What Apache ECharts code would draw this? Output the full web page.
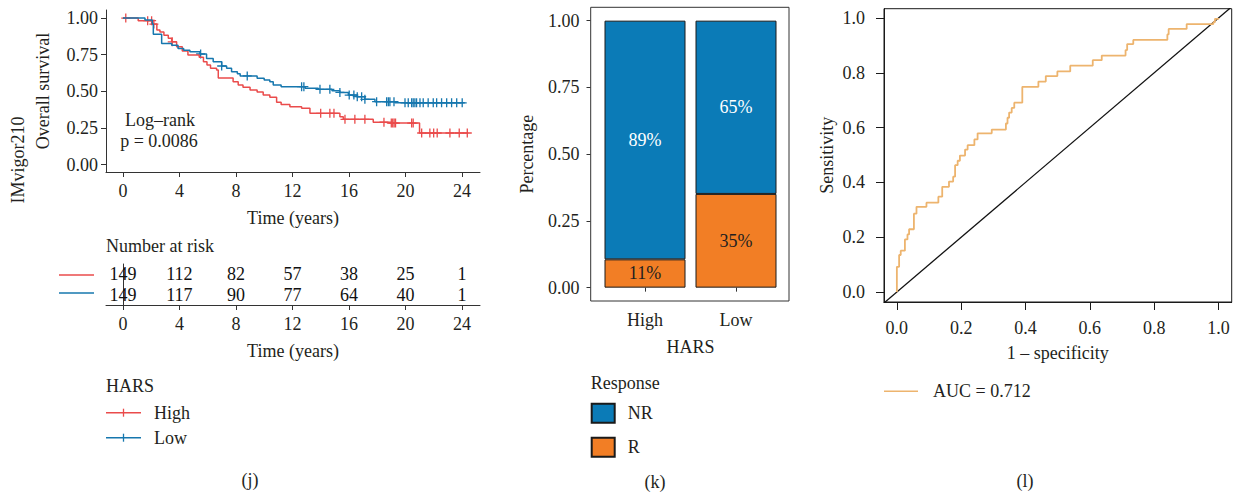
<!DOCTYPE html>
<html>
<head>
<meta charset="utf-8">
<script src="https://cdn.jsdelivr.net/npm/echarts@6/dist/echarts.min.js"></script>
<style>
  html, body { margin: 0; padding: 0; background: #fff; }
  #chart { width: 1234px; height: 493px; }
</style>
</head>
<body>
<div id="chart"></div>
<script>
// ---- (j) Kaplan-Meier, IMvigor210 ----
const highTime = [0, 1.08, 2.1, 2.4, 2.62, 2.9, 3.21, 3.45, 3.8, 4.2, 4.6, 5.4, 5.7, 5.95, 6.2, 6.63, 6.75, 7.8, 8.16, 8.5, 9.0, 9.5, 9.93, 10.4, 10.88, 11.2, 11.82, 12.65, 13.24, 15.36, 15.6, 17.72, 19.0, 21.0, 24.45];
const highSurv = [1.0, 0.982, 0.959, 0.918, 0.905, 0.882, 0.862, 0.838, 0.805, 0.775, 0.748, 0.733, 0.702, 0.68, 0.657, 0.645, 0.592, 0.565, 0.543, 0.528, 0.509, 0.495, 0.475, 0.46, 0.425, 0.41, 0.395, 0.384, 0.35, 0.327, 0.309, 0.29, 0.284, 0.216, 0.216];
const lowTime = [0, 1.56, 2.08, 2.15, 2.74, 3.45, 3.9, 4.3, 4.74, 5.45, 5.92, 6.39, 6.99, 7.34, 7.69, 8.1, 8.3, 9.5, 10.0, 10.4, 10.64, 11.2, 12.9, 13.83, 14.8, 15.36, 15.96, 16.55, 17.13, 17.84, 19.26, 24.2];
const lowSurv = [1.0, 0.986, 0.959, 0.89, 0.827, 0.815, 0.793, 0.78, 0.77, 0.755, 0.725, 0.702, 0.673, 0.657, 0.634, 0.62, 0.605, 0.589, 0.578, 0.566, 0.543, 0.532, 0.521, 0.514, 0.505, 0.493, 0.475, 0.464, 0.446, 0.43, 0.422, 0.422];
const highCensor = [0.2, 1.75, 2.03, 2.19, 3.49, 14.0, 14.65, 14.94, 15.72, 16.42, 17.13, 18.48, 19.0, 19.1, 19.2, 19.3, 20.44, 20.55, 21.15, 21.73, 22.0, 22.25, 23.15, 23.81, 24.38];
const lowCensor = [5.5, 6.99, 8.8, 12.65, 12.81, 13.95, 14.65, 15.36, 16.02, 16.35, 16.59, 16.9, 17.13, 17.96, 18.67, 18.79, 18.9, 19.19, 19.97, 20.2, 20.44, 20.55, 20.67, 20.79, 21.03, 21.26, 21.61, 21.97, 22.21, 22.56, 22.92, 23.27, 23.63, 24.02];
const timeTicks = [0, 4, 8, 12, 16, 20, 24];
const riskHigh = [149, 112, 82, 57, 38, 25, 1];
const riskLow = [149, 117, 90, 77, 64, 40, 1];
const survTicks = [0, 0.25, 0.5, 0.75, 1];

// ---- (k) response bars ----
const harsGroups = ['High', 'Low'];
const respR = [0.106, 0.351];
const respNR = [0.894, 0.649];
const labelR = ['11%', '35%'];
const labelNR = ['89%', '65%'];
const pctTicks = [0, 0.25, 0.5, 0.75, 1];

// ---- (l) ROC ----
const rocFpr = [0, 0, 0.007, 0.012, 0.025, 0.033, 0.038, 0.053, 0.061, 0.092, 0.129, 0.141, 0.162, 0.175, 0.181, 0.189, 0.196, 0.212, 0.22, 0.241, 0.251, 0.295, 0.339, 0.344, 0.349, 0.357, 0.365, 0.39, 0.44, 0.463, 0.499, 0.539, 0.609, 0.637, 0.711, 0.716, 0.735, 0.841, 0.845, 0.901, 0.984, 0.989, 1.0];
const rocTpr = [0, 0.092, 0.135, 0.151, 0.192, 0.21, 0.229, 0.286, 0.311, 0.326, 0.348, 0.384, 0.403, 0.421, 0.463, 0.479, 0.498, 0.52, 0.536, 0.557, 0.579, 0.593, 0.615, 0.636, 0.655, 0.672, 0.691, 0.749, 0.768, 0.788, 0.805, 0.826, 0.846, 0.863, 0.883, 0.905, 0.92, 0.94, 0.96, 0.978, 0.985, 0.997, 1.0];
const diagX = [-0.05, 1.05];
const rocTicks = [0, 0.2, 0.4, 0.6, 0.8, 1];

const FONT = "'Liberation Serif', 'DejaVu Serif', serif";
const INK = '#231f20';
const RED = '#ea4b4b';
const BLUE = '#1677ae';
const BAR_BLUE = '#0b7bb7';
const BAR_ORANGE = '#f27e25';
const ROC_COL = '#edb46e';
const FS = 18;

const pairs = (xs, ys) => xs.map((x, i) => [x, ys[i]]);
// survival value at time t from the step data
const survAt = (times, surv, t) => {
  let s = surv[0];
  for (let i = 0; i < times.length; i++) if (times[i] <= t) s = surv[i];
  return s;
};
const cross = 'path://M5,0L5,10M0,5L10,5';
const txt = { fontFamily: FONT, fontSize: FS, color: INK };

function valueAxis(grid, min, max, ticks, fmt, extra) {
  return Object.assign({
    type: 'value', gridIndex: grid, min: min, max: max,
    axisLine: { show: true, onZero: false, lineStyle: { color: '#333', width: 1 } },
    axisTick: { show: true, length: 5, customValues: ticks, lineStyle: { color: '#333' } },
    axisLabel: Object.assign({ customValues: ticks, formatter: fmt }, txt),
    splitLine: { show: false },
    nameLocation: 'middle',
    nameTextStyle: txt
  }, extra || {});
}

function riskSeries(name, row, counts) {
  return {
    name: name, type: 'scatter', xAxisIndex: 1, yAxisIndex: 1,
    symbol: 'rect', symbolSize: 1, itemStyle: { color: 'rgba(255,255,255,0)', opacity: 1 },
    label: {
      show: true, position: 'inside', fontFamily: FONT, fontSize: FS, color: '#111',
      opacity: 1, textBorderWidth: 0, formatter: p => String(counts[p.dataIndex])
    },
    emphasis: { disabled: true },
    data: timeTicks.map(t => [t, row])
  };
}

function censorSeries(name, times, surv, censor, color) {
  return {
    name: name, type: 'scatter', xAxisIndex: 0, yAxisIndex: 0, symbol: cross, symbolSize: 9,
    itemStyle: { color: 'none', borderColor: color, borderWidth: 1.3, opacity: 1 },
    emphasis: { disabled: true },
    data: censor.map(t => [t, survAt(times, surv, t)])
  };
}

const chart = echarts.init(document.getElementById('chart'), null, { renderer: 'svg' });

const option = {
  animation: false,
  backgroundColor: '#fff',
  textStyle: { fontFamily: FONT },
  grid: [
    { left: 106, top: 10, width: 374, height: 162 },
    { left: 106, top: 264, width: 374, height: 41 },
    { left: 599.5, top: 7.3, width: 182, height: 293.7 },
    { left: 884, top: 8.7, width: 347.7, height: 293.3, show: true, borderColor: '#1a1a1a', borderWidth: 1 }
  ],
  xAxis: [
    valueAxis(0, -1.2, 25.28, timeTicks, v => String(v), { name: 'Time (years)', nameGap: 37, axisLabel: Object.assign({ customValues: timeTicks, margin: 10 }, txt) }),
    valueAxis(1, -1.2, 25.28, timeTicks, v => String(v), { name: 'Time (years)', nameGap: 37, axisLabel: Object.assign({ customValues: timeTicks, margin: 10 }, txt) }),
    {
      type: 'category', gridIndex: 2, data: harsGroups,
      axisLine: { show: false },
      axisTick: { show: true, alignWithLabel: true, length: 4, lineStyle: { color: '#333' } },
      axisLabel: Object.assign({ margin: 10 }, txt),
      name: 'HARS', nameLocation: 'middle', nameGap: 37, nameTextStyle: txt
    },
    valueAxis(3, -0.04, 1.041, rocTicks, v => v.toFixed(1), {
      name: '1 \u2013 specificity', nameGap: 42,
      axisLine: { show: true, onZero: false, lineStyle: { color: '#1a1a1a' } },
      axisTick: { show: true, length: 8, customValues: rocTicks, lineStyle: { color: '#1a1a1a' } },
      axisLabel: Object.assign({ customValues: rocTicks, formatter: v => v.toFixed(1), margin: 17 }, txt)
    })
  ],
  yAxis: [
    valueAxis(0, -0.05, 1.055, survTicks, v => v.toFixed(2), { name: 'Overall survival', nameGap: 54, nameRotate: 90, axisLabel: Object.assign({ customValues: survTicks, formatter: v => v.toFixed(2), margin: 8 }, txt) }),
    {
      type: 'category', gridIndex: 1, data: ['Low', 'High'],
      axisLine: { show: true, lineStyle: { color: '#333' } },
      axisTick: { show: false }, axisLabel: { show: false }
    },
    valueAxis(2, -0.05, 1.05, pctTicks, v => v.toFixed(2), {
      offset: 9, name: 'Percentage', nameGap: 55, nameRotate: 90,
      axisLine: { show: false },
      axisTick: { show: true, length: 4, customValues: pctTicks, lineStyle: { color: '#333' } },
      axisLabel: Object.assign({ customValues: pctTicks, formatter: v => v.toFixed(2), margin: 11 }, txt)
    }),
    valueAxis(3, -0.0365, 1.034, rocTicks, v => v.toFixed(1), {
      name: 'Sensitivity', nameGap: 48, nameRotate: 90,
      axisLine: { show: true, onZero: false, lineStyle: { color: '#1a1a1a' } },
      axisTick: { show: true, length: 8, customValues: rocTicks, lineStyle: { color: '#1a1a1a' } },
      axisLabel: Object.assign({ customValues: rocTicks, formatter: v => v.toFixed(1), margin: 19 }, txt)
    })
  ],
  legend: [
    {
      data: ['NR', 'R'], left: 590.7, top: 402.7, orient: 'vertical', padding: 0,
      icon: 'rect', itemWidth: 23, itemHeight: 19, itemGap: 13, selectedMode: false,
      textStyle: Object.assign({ padding: [0, 0, 0, 8] }, txt)
    },
    {
      data: [{ name: 'AUC = 0.712', icon: 'rect' }], left: 884, top: 382.3, orient: 'vertical', padding: 0,
      itemWidth: 34, itemHeight: 1.6, selectedMode: false,
      itemStyle: { color: ROC_COL, borderWidth: 0 },
      textStyle: Object.assign({ padding: [0, 0, 0, 10] }, txt)
    }
  ],
  series: [
    {
      name: 'High', type: 'line', xAxisIndex: 0, yAxisIndex: 0, step: 'end', symbol: 'none',
      lineStyle: { color: RED, width: 1.5 }, data: pairs(highTime, highSurv)
    },
    {
      name: 'Low', type: 'line', xAxisIndex: 0, yAxisIndex: 0, step: 'end', symbol: 'none',
      lineStyle: { color: BLUE, width: 1.5 }, data: pairs(lowTime, lowSurv)
    },
    censorSeries('High censored', highTime, highSurv, highCensor, RED),
    censorSeries('Low censored', lowTime, lowSurv, lowCensor, BLUE),
    riskSeries('risk High', 'High', riskHigh),
    riskSeries('risk Low', 'Low', riskLow),
    {
      name: 'R', type: 'bar', xAxisIndex: 2, yAxisIndex: 2, stack: 'resp', barWidth: 81,
      itemStyle: { color: BAR_ORANGE, borderColor: '#1a1a1a', borderWidth: 1 },
      label: Object.assign({ show: true, position: 'inside', formatter: p => labelR[p.dataIndex] }, txt),
      data: respR
    },
    {
      name: 'NR', type: 'bar', xAxisIndex: 2, yAxisIndex: 2, stack: 'resp', barWidth: 81,
      itemStyle: { color: BAR_BLUE, borderColor: '#1a1a1a', borderWidth: 1 },
      label: Object.assign({}, txt, { show: true, position: 'inside', color: '#fff', formatter: p => labelNR[p.dataIndex] }),
      data: respNR
    },
    {
      name: 'reference', type: 'line', xAxisIndex: 3, yAxisIndex: 3, symbol: 'none', clip: true,
      lineStyle: { color: '#111', width: 1.3 }, data: pairs(diagX, diagX)
    },
    {
      name: 'AUC = 0.712', type: 'line', xAxisIndex: 3, yAxisIndex: 3, step: 'end', symbol: 'none',
      lineStyle: { color: ROC_COL, width: 1.8 }, itemStyle: { color: ROC_COL },
      data: pairs(rocFpr, rocTpr)
    }
  ],
  graphic: [
    { type: 'text', x: 18, y: 160, rotation: Math.PI / 2, style: { text: 'IMvigor210', font: FS + 'px ' + FONT, fill: INK, align: 'center', verticalAlign: 'middle' } },
    { type: 'text', x: 160, y: 120, style: { text: 'Log\u2013rank', font: FS + 'px ' + FONT, fill: INK, align: 'center', verticalAlign: 'middle' } },
    { type: 'text', x: 159, y: 141, style: { text: 'p = 0.0086', font: FS + 'px ' + FONT, fill: INK, align: 'center', verticalAlign: 'middle' } },
    { type: 'text', x: 106, y: 245.7, style: { text: 'Number at risk', font: FS + 'px ' + FONT, fill: INK, align: 'left', verticalAlign: 'middle' } },
    { type: 'line', shape: { x1: 59, y1: 275, x2: 94, y2: 275 }, style: { stroke: RED, lineWidth: 1.4 } },
    { type: 'line', shape: { x1: 59, y1: 293, x2: 94, y2: 293 }, style: { stroke: BLUE, lineWidth: 1.4 } },
    { type: 'text', x: 106, y: 386, style: { text: 'HARS', font: FS + 'px ' + FONT, fill: INK, align: 'left', verticalAlign: 'middle' } },
    { type: 'line', shape: { x1: 106, y1: 412.7, x2: 141, y2: 412.7 }, style: { stroke: RED, lineWidth: 1.4 } },
    { type: 'line', shape: { x1: 123.5, y1: 408.7, x2: 123.5, y2: 416.7 }, style: { stroke: RED, lineWidth: 1.3 } },
    { type: 'text', x: 154, y: 412.7, style: { text: 'High', font: FS + 'px ' + FONT, fill: INK, align: 'left', verticalAlign: 'middle' } },
    { type: 'line', shape: { x1: 106, y1: 437.7, x2: 141, y2: 437.7 }, style: { stroke: BLUE, lineWidth: 1.4 } },
    { type: 'line', shape: { x1: 123.5, y1: 433.7, x2: 123.5, y2: 441.7 }, style: { stroke: BLUE, lineWidth: 1.3 } },
    { type: 'text', x: 154, y: 437.7, style: { text: 'Low', font: FS + 'px ' + FONT, fill: INK, align: 'left', verticalAlign: 'middle' } },
    { type: 'rect', shape: { x: 590.7, y: 7.3, width: 198.3, height: 293.7 }, style: { fill: 'none', stroke: '#333', lineWidth: 1 }, z: 10 },
    { type: 'text', x: 590.7, y: 382.7, style: { text: 'Response', font: FS + 'px ' + FONT, fill: INK, align: 'left', verticalAlign: 'middle' } },
    { type: 'text', x: 250, y: 480, style: { text: '(j)', font: FS + 'px ' + FONT, fill: INK, align: 'center', verticalAlign: 'middle' } },
    { type: 'text', x: 655, y: 482, style: { text: '(k)', font: FS + 'px ' + FONT, fill: INK, align: 'center', verticalAlign: 'middle' } },
    { type: 'text', x: 1025, y: 481, style: { text: '(l)', font: FS + 'px ' + FONT, fill: INK, align: 'center', verticalAlign: 'middle' } }
  ]
};

chart.setOption(option);
</script>
</body>
</html>
